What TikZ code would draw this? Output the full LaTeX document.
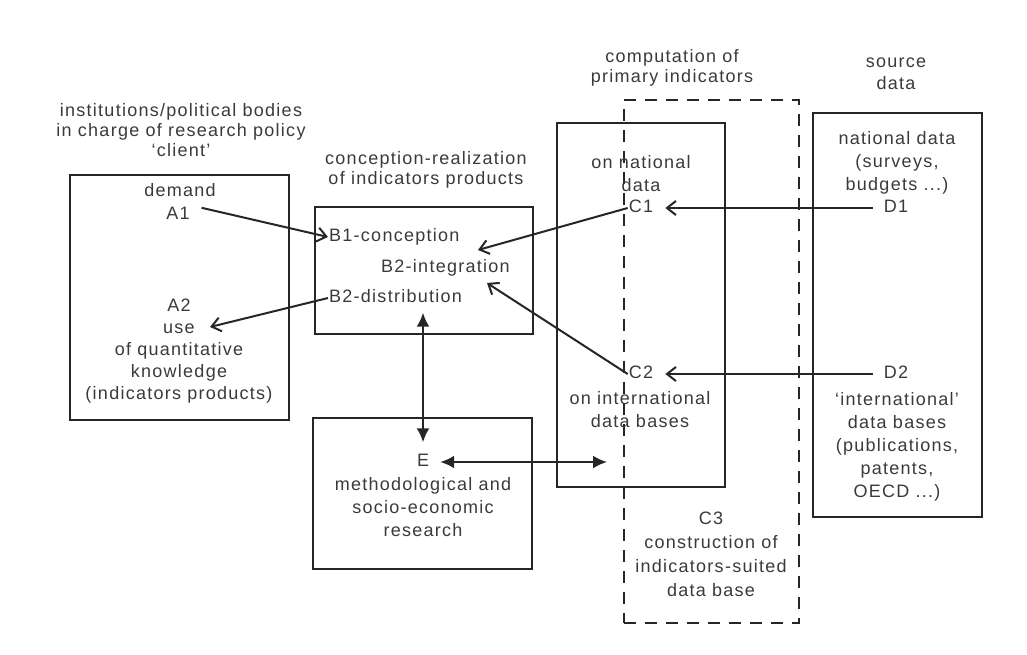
\documentclass[tikz,border=0pt]{standalone}
\usepackage{fontspec}
\setmainfont[LetterSpace=7]{Liberation Sans}
\usetikzlibrary{arrows.meta}
\definecolor{ink}{HTML}{262626}
\definecolor{txt}{HTML}{3A3A3A}
\begin{document}
\begin{tikzpicture}[x=1pt,y=-1pt,
  every node/.style={font=\fontsize{18}{20}\selectfont, text=txt},
  box/.style={draw=ink, line width=2.4pt, inner sep=0pt},
  dbox/.style={draw=ink, line width=2.6pt, inner sep=0pt, dash pattern=on 12pt off 9pt},
  lbl/.style={inner sep=1pt, text height=13pt, text depth=4pt},
  hd/.style={align=center, inner sep=0pt, font=\fontsize{18}{20}\selectfont},
  blk/.style={align=center, inner sep=0pt, font=\fontsize{18}{23}\selectfont},
  open/.style={draw=ink, line width=2pt, -{Straight Barb[length=9pt,width=14pt]}},
  both/.style={draw=ink, line width=2.2pt, {Latex[length=14pt,width=13pt]}-{Latex[length=14pt,width=13pt]}},
]
\useasboundingbox (0,0) rectangle (1027,655);

% ---- frames
\node[box, minimum width=219pt, minimum height=245pt] (abox) at (179.5,297.5) {};
\node[box, minimum width=218pt, minimum height=127pt] (bbox) at (424,270.5) {};
\node[box, minimum width=219pt, minimum height=151pt] (ebox) at (422.5,493.5) {};
\node[box, minimum width=168pt, minimum height=364pt] (cbox) at (641,305) {};
\node[dbox, minimum width=175pt, minimum height=523pt] (c3box) at (711.5,361.5) {};
\node[box, minimum width=169pt, minimum height=404pt] (dbox) at (897.5,315) {};

% ---- A: client
\node[hd] (ahead) at (181,130) {institutions/political bodies\\in charge of research policy\\`client'};
\node[lbl] (demand) at (180,192) {demand};
\node[lbl] (a1) at (178,215) {A1};
\node[blk, font=\fontsize{18}{22}\selectfont] (a2) at (179,351) {A2\\use\\of quantitative\\knowledge\\(indicators products)};
\coordinate (a2in) at (210,327);

% ---- B: conception-realization
\node[hd] (bhead) at (426,170) {conception-realization\\of indicators products};
\node[lbl, anchor=west] (b1) at (328,237) {B1-conception};
\node[lbl, anchor=west] (b2i) at (380,268) {B2-integration};
\node[lbl, anchor=west] (b2d) at (328,298) {B2-distribution};
\coordinate (b2iA) at (478,250);
\coordinate (b2iB) at (487,283);

% ---- E: research
\node[lbl] (e) at (423,462) {E};
\node[blk] (etext) at (423,507) {methodological and\\socio-economic\\research};

% ---- C: primary indicators
\node[hd] (chead) at (672,68) {computation of\\primary indicators};
\node[blk] (cnat) at (641,174) {on national\\data};
\node[lbl] (c1) at (641,208) {C1};
\node[lbl] (c2) at (641,374) {C2};
\node[blk] (cint) at (640,410) {on international\\data bases};
\node[blk, font=\fontsize{18}{24}\selectfont] (c3) at (711,554) {C3\\construction of\\indicators-suited\\data base};
\coordinate (cL) at (607,464);

% ---- D: source data
\node[hd, font=\fontsize{18}{22}\selectfont] (dhead) at (896,74) {source\\data};
\node[blk] (dnat) at (897,163) {national data\\(surveys,\\budgets ...)};
\node[lbl] (d1) at (896,208) {D1};
\node[lbl] (d2) at (896,374) {D2};
\node[blk] (dint) at (897,446.5) {`international'\\data bases\\(publications,\\patents,\\OECD ...)};

% ---- connectors
\draw[open, shorten <=11pt] (a1.north east) -- (b1.west);
\draw[open] (b2d.west) -- (a2in);
\draw[open] (c1.west) -- (b2iA);
\draw[open] (c2.west) -- (b2iB);
\draw[open, shorten <=10pt, shorten >=11pt] (d1.west) -- (c1.east);
\draw[open, shorten <=10pt, shorten >=11pt] (d2.west) -- (c2.east);
\draw[both, shorten <=5pt, shorten >=10pt] (e.north |- b2d.south) -- (e.north);
\draw[both, shorten <=10pt] (e.east) -- (e.east -| cL);
\end{tikzpicture}
\end{document}
